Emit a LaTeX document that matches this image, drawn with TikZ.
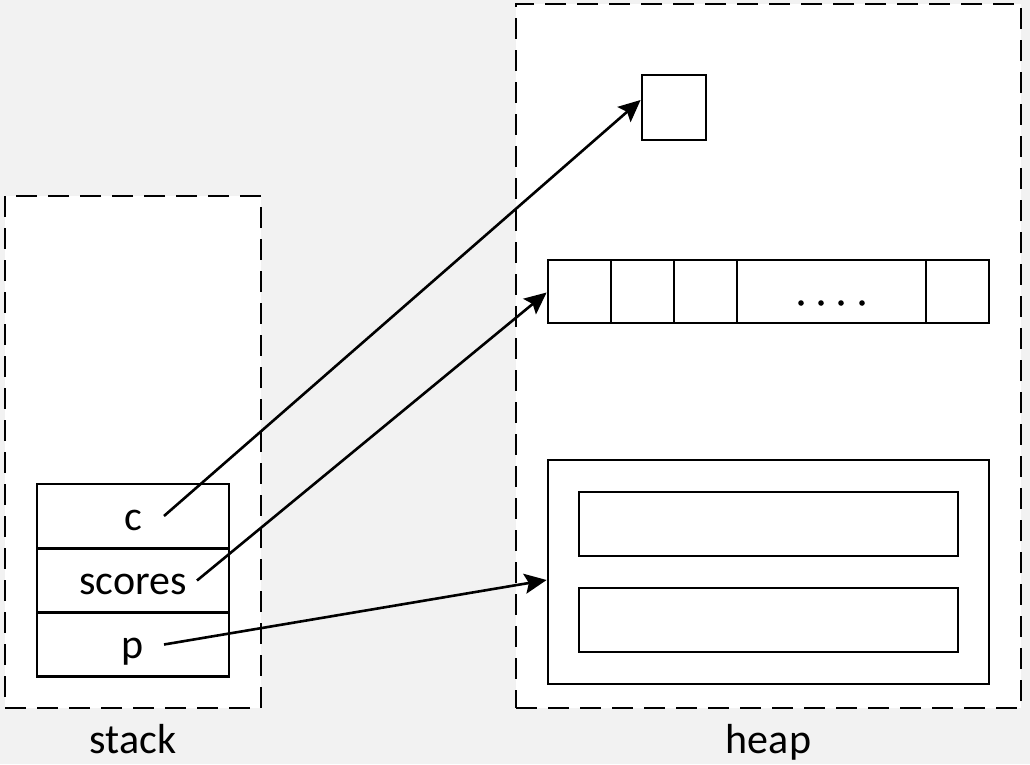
\documentclass[tikz,border=0pt]{standalone}
\usepackage{fontspec}
\setmainfont{Carlito}
\usetikzlibrary{arrows.meta}
\definecolor{bggray}{HTML}{F2F2F2}
\tikzset{
  frame/.style={draw, fill=white, line width=2.8pt, dash pattern=on 21pt off 11pt, inner sep=0pt},
  cell/.style={draw, fill=white, line width=2.8pt, inner sep=0pt, minimum height=64pt, text height=30pt, text depth=2pt, font=\fontsize{42}{50}\selectfont},
  lbl/.style={anchor=base, font=\fontsize{42}{50}\selectfont},
  ptr/.style={line width=2.6pt, -{Stealth[length=22pt,width=20pt,inset=4pt]}}
}
\begin{document}
\begin{tikzpicture}[x=1pt,y=-1pt]
\fill[bggray] (0,0) rectangle (1030,764);
\useasboundingbox (0,0) rectangle (1030,764);
% frames
\node[frame, minimum width=256pt, minimum height=512pt] (stack) at (133,452) {};
\node[frame, minimum width=505pt, minimum height=704pt] (heap) at (768.5,356) {};
\node[lbl] (stacklbl) at (133,753) {stack};
\node[lbl] (heaplbl) at (768.5,753) {heap};
% stack cells
\node[cell, minimum width=192pt] (c) at (133,516) {c};
\node[cell, minimum width=192pt] (scores) at (133,580.5) {scores};
\node[cell, minimum width=192pt] (p) at (133,644.5) {p};
% heap objects
\node[cell, minimum width=64pt, minimum height=65pt] (obj) at (674,107.5) {};
\node[cell, minimum width=63pt, minimum height=63pt] (a1) at (579.5,291.5) {};
\node[cell, minimum width=63pt, minimum height=63pt] (a2) at (642.5,291.5) {};
\node[cell, minimum width=63pt, minimum height=63pt] (a3) at (705.5,291.5) {};
\node[cell, minimum width=189pt, minimum height=63pt] (a4) at (831.5,291.5) {};
\node[cell, minimum width=63pt, minimum height=63pt] (a5) at (957.5,291.5) {};
\foreach \x in {801,821,841,862} \fill (\x,303) circle (2.8pt);
\node[cell, minimum width=441pt, minimum height=224pt] (st) at (768.5,572) {};
\node[cell, minimum width=379pt, minimum height=64pt] (f1) at (768.5,524) {};
\node[cell, minimum width=379pt, minimum height=64pt] (f2) at (768.5,620) {};
% pointers
\draw[ptr] ([xshift=31pt]c.center) -- ([yshift=7.5pt]obj.west);
\draw[ptr] ([xshift=64pt]scores.center) -- ([yshift=-1pt]a1.west);
\draw[ptr] ([xshift=31pt]p.center) -- ([yshift=-8pt]st.west);
\end{tikzpicture}
\end{document}
